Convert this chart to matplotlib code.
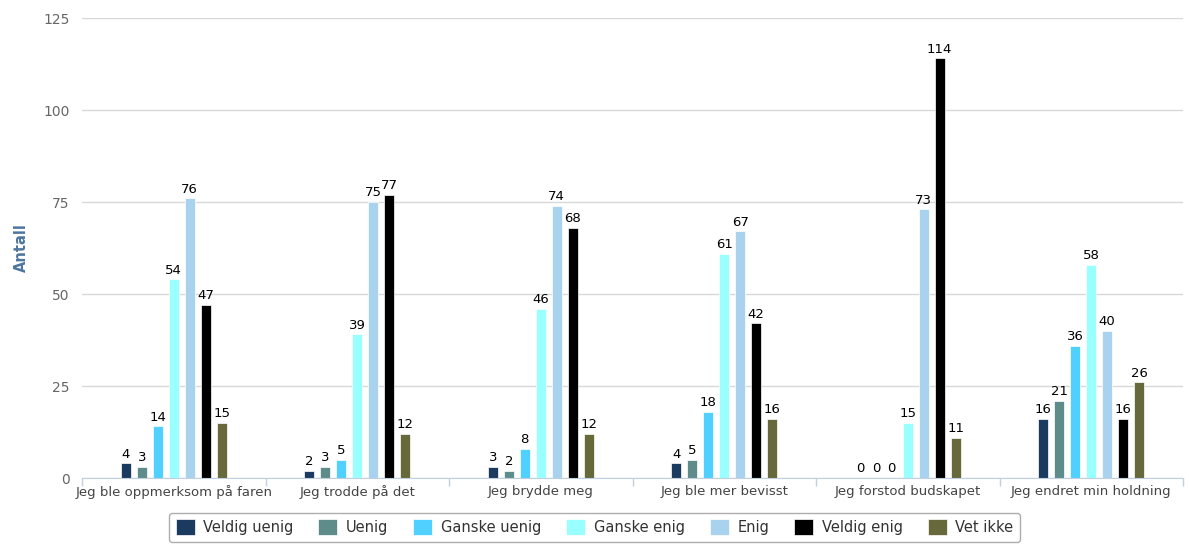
import numpy as np
import matplotlib.pyplot as plt

# --- Data ---
categories = ["Jeg ble oppmerksom på faren", "Jeg trodde på det", "Jeg brydde meg",
              "Jeg ble mer bevisst", "Jeg forstod budskapet", "Jeg endret min holdning"]
series_names = ["Veldig uenig", "Uenig", "Ganske uenig", "Ganske enig",
                "Enig", "Veldig enig", "Vet ikke"]
veldig_uenig = [4, 2, 3, 4, 0, 16]
uenig = [3, 3, 2, 5, 0, 21]
ganske_uenig = [14, 5, 8, 18, 0, 36]
ganske_enig = [54, 39, 46, 61, 15, 58]
enig = [76, 75, 74, 67, 73, 40]
veldig_enig = [47, 77, 68, 42, 114, 16]
vet_ikke = [15, 12, 12, 16, 11, 26]
series = [veldig_uenig, uenig, ganske_uenig, ganske_enig, enig, veldig_enig, vet_ikke]
colors = ["#1b3a60", "#5e8c8a", "#4fd0ff", "#99ffff", "#a9d2ee", "#000000", "#67693a"]
yticks = [0, 25, 50, 75, 100, 125]

# --- Figure ---
fig = plt.figure(figsize=(11.89, 5.49), dpi=100)
ax = fig.add_axes([82 / 1189, 71 / 549, 1101 / 1189, 460 / 549])

x = np.arange(len(categories))
step = 0.087
width = 0.055
n = len(series)
for i, (name, vals, col) in enumerate(zip(series_names, series, colors)):
    pos = x + (i - (n - 1) / 2) * step
    ax.bar(pos, vals, width, color=col, label=name, edgecolor="white", linewidth=0.5, zorder=3)
    for px, v in zip(pos, vals):
        ax.annotate(str(v), (px, v), xytext=(0, 2), textcoords="offset points",
                    ha="center", va="bottom", fontsize=9.5, color="black", zorder=4)

ax.set_xlim(-0.5, len(categories) - 0.5)
ax.set_ylim(0, 125)
ax.set_yticks(yticks)
ax.set_xticks(x)
ax.set_xticklabels(categories, fontsize=9.5, color="#444444")
ax.set_xticks(np.arange(len(categories) + 1) - 0.5, minor=True)
ax.tick_params(axis="x", which="major", length=0, pad=5)
ax.tick_params(axis="x", which="minor", length=6, color="#c0d0e0", width=1)
ax.tick_params(axis="y", length=0, labelsize=10, labelcolor="#666666", pad=9)

ax.grid(axis="y", color="#d8d8d8", linewidth=1, zorder=0)
for s in ["top", "right", "left"]:
    ax.spines[s].set_visible(False)
ax.spines["bottom"].set_color("#c0d0e0")
ax.spines["bottom"].set_zorder(5)

ax.set_ylabel("Antall", fontsize=10.5, fontweight="bold", color="#4d759e", labelpad=10)

leg = fig.legend(loc="lower center", bbox_to_anchor=(0.5, 0.0), ncol=7, fontsize=10.5,
                 frameon=True, fancybox=True, edgecolor="#999999", handlelength=1.3,
                 handleheight=1.3, columnspacing=1.7, handletextpad=0.6,
                 borderpad=0.45)
for t in leg.get_texts():
    t.set_color("#333333")

fig.savefig("out.png", dpi=100)
